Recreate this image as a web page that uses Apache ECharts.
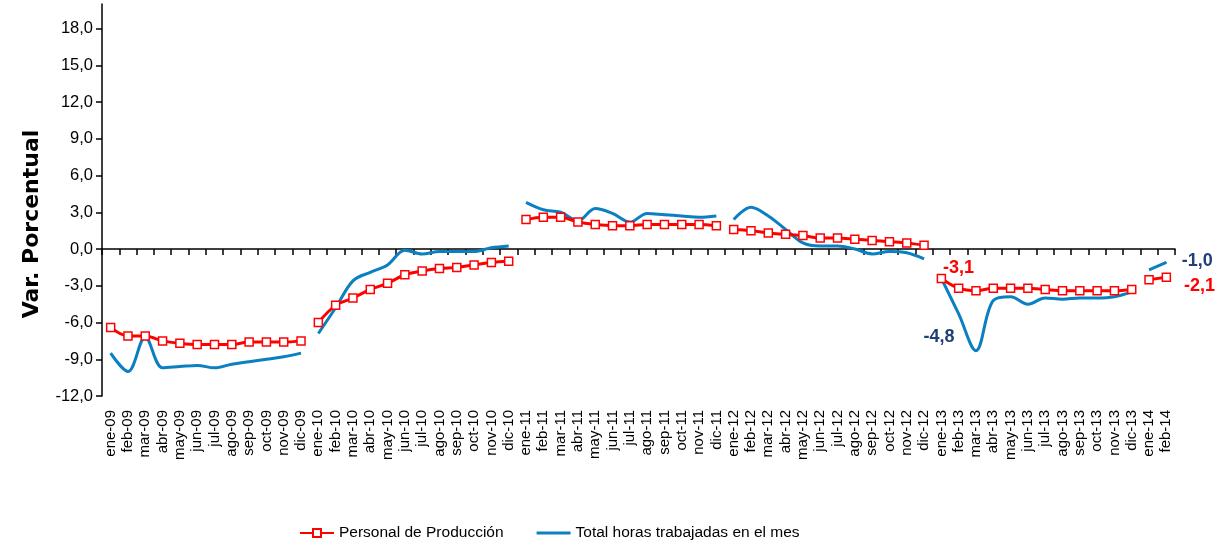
<!DOCTYPE html>
<html lang="es">
<head>
    <meta charset="UTF-8">
    <title>Personal de Producción y horas trabajadas</title>
    <script src="https://cdn.jsdelivr.net/npm/echarts@6/dist/echarts.min.js"></script>
    <style>
        html, body {
            margin: 0;
            padding: 0;
            background: #fff;
        }
        #chart {
            width: 1229px;
            height: 544px;
        }
    </style>
</head>
<body>
    <div id="chart"></div>

    <script>
        // meses ene-09 ... feb-14
        const categorias = [
            'ene-09','feb-09','mar-09','abr-09','may-09','jun-09','jul-09','ago-09','sep-09','oct-09','nov-09','dic-09',
            'ene-10','feb-10','mar-10','abr-10','may-10','jun-10','jul-10','ago-10','sep-10','oct-10','nov-10','dic-10',
            'ene-11','feb-11','mar-11','abr-11','may-11','jun-11','jul-11','ago-11','sep-11','oct-11','nov-11','dic-11',
            'ene-12','feb-12','mar-12','abr-12','may-12','jun-12','jul-12','ago-12','sep-12','oct-12','nov-12','dic-12',
            'ene-13','feb-13','mar-13','abr-13','may-13','jun-13','jul-13','ago-13','sep-13','oct-13','nov-13','dic-13',
            'ene-14','feb-14'
        ];

        // Personal de Producción (var. %)
        const personal = [
            -6.4, -7.1, -7.1, -7.5, -7.7, -7.8, -7.8, -7.8, -7.6, -7.6, -7.6, -7.5,
            -6.0, -4.6, -4.0, -3.3, -2.8, -2.1, -1.8, -1.6, -1.5, -1.3, -1.1, -1.0,
            2.4, 2.6, 2.6, 2.2, 2.0, 1.9, 1.9, 2.0, 2.0, 2.0, 2.0, 1.9,
            1.6, 1.5, 1.3, 1.2, 1.1, 0.9, 0.9, 0.8, 0.7, 0.6, 0.5, 0.3,
            -2.4, -3.2, -3.4, -3.2, -3.2, -3.2, -3.3, -3.4, -3.4, -3.4, -3.4, -3.3,
            -2.5, -2.3
        ];

        // Total horas trabajadas en el mes (var. %)
        const horas = [
            -8.5, -10.0, -7.2, -9.7, -9.6, -9.5, -9.7, -9.4, -9.2, -9.0, -8.8, -8.5,
            -6.9, -4.8, -2.6, -1.9, -1.3, -0.1, -0.4, -0.2, -0.2, -0.2, 0.1, 0.25,
            3.8, 3.2, 3.0, 2.3, 3.3, 2.9, 2.2, 2.9, 2.8, 2.7, 2.6, 2.7,
            2.4, 3.4, 2.7, 1.6, 0.5, 0.25, 0.25, 0.0, -0.4, -0.2, -0.3, -0.8,
            -2.4, -5.3, -8.3, -4.2, -3.9, -4.5, -4.0, -4.1, -4.0, -4.0, -3.9, -3.5,
            -1.7, -1.1
        ];

        // tramos anuales (los años no se unen entre sí)
        const tramos = [[0, 11], [12, 23], [24, 35], [36, 47], [48, 59], [60, 61]];

        const valoresEje = [-12, -9, -6, -3, 0, 3, 6, 9, 12, 15, 18];

        const ROJO = '#ff0000';
        const AZUL = '#0a7fc1';
        const AZUL_ETIQ = '#1f3f77';

        // etiquetas de texto sobre puntos concretos
        const etiquetasPersonal = {
            48: { formatter: '-3,1', position: 'right', offset: [-8, -10] },
            61: { formatter: '-2,1', position: 'right', offset: [8, 9] }
        };
        const etiquetasHoras = {
            50: { formatter: '-4,8', position: 'left', offset: [-16, -14] },
            61: { formatter: '-1,0', position: 'right', offset: [10, -1] }
        };

        function tramoDatos(valores, ini, fin, etiquetas, color, conSimbolo) {
            return valores.map((v, i) => {
                if (i < ini || i > fin) return null;
                if (etiquetas[i]) {
                    const item = {
                        value: v,
                        label: Object.assign({
                            show: true,
                            color: color,
                            fontFamily: 'Arial',
                            fontWeight: 'bold',
                            fontSize: 18
                        }, etiquetas[i])
                    };
                    if (conSimbolo) {
                        // símbolo mínimo para que la etiqueta se dibuje
                        item.symbol = 'circle';
                        item.symbolSize = 1;
                    }
                    return item;
                }
                return v;
            });
        }

        const series = [];
        tramos.forEach(([ini, fin]) => {
            series.push({
                name: 'Personal de Producción',
                type: 'line',
                smooth: 0.35,
                data: tramoDatos(personal, ini, fin, etiquetasPersonal, ROJO, false),
                symbol: 'rect',
                symbolSize: 8,
                showAllSymbol: true,
                lineStyle: { color: ROJO, width: 3 },
                itemStyle: { color: '#fff', borderColor: ROJO, borderWidth: 1.5 },
                z: 3
            });
            series.push({
                name: 'Total horas trabajadas en el mes',
                type: 'line',
                smooth: 0.35,
                data: tramoDatos(horas, ini, fin, etiquetasHoras, AZUL_ETIQ, true),
                symbol: 'none',
                lineStyle: { color: AZUL, width: 3 },
                itemStyle: { color: AZUL },
                z: 2
            });
        });

        const chart = echarts.init(document.getElementById('chart'));

        chart.setOption({
            animation: false,
            textStyle: { fontFamily: 'Arial' },
            grid: { left: 102, right: 54, top: 4, bottom: 148 },
            legend: {
                left: 294,
                top: 520,
                itemWidth: 34,
                itemHeight: 10,
                itemGap: 33,
                textStyle: { fontSize: 15.5, color: '#000', fontFamily: 'Arial' },
                data: [
                    { name: 'Personal de Producción' },
                    // solo la línea, sin símbolo
                    { name: 'Total horas trabajadas en el mes', icon: 'path://M0,0 L34,0 L34,3 L0,3 Z' }
                ]
            },
            xAxis: [{
                // línea del cero con marcas
                type: 'category',
                data: categorias,
                position: 'bottom',
                boundaryGap: true,
                axisLine: { onZero: true, lineStyle: { color: '#000', width: 1.5 } },
                axisTick: { show: true, interval: 0, length: 6, lineStyle: { color: '#000', width: 1.5 } },
                axisLabel: { show: false },
                splitLine: { show: false }
            }, {
                // etiquetas de meses abajo
                type: 'category',
                data: categorias,
                position: 'bottom',
                boundaryGap: true,
                axisLine: { show: false, onZero: false },
                axisTick: { show: false },
                axisLabel: {
                    interval: 0,
                    rotate: 90,
                    margin: 14,
                    fontSize: 15,
                    color: '#000',
                    fontFamily: 'Arial'
                },
                splitLine: { show: false }
            }],
            yAxis: {
                type: 'value',
                min: -12,
                max: 20,
                interval: 3,
                axisLine: { show: true, lineStyle: { color: '#000', width: 1.5 } },
                axisTick: { show: true, length: 6, customValues: valoresEje, lineStyle: { color: '#000', width: 1.5 } },
                axisLabel: {
                    customValues: valoresEje,
                    fontSize: 16.5,
                    color: '#000',
                    margin: 9,
                    fontFamily: 'Arial',
                    formatter: v => v.toFixed(1).replace('.', ',')
                },
                splitLine: { show: false }
            },
            graphic: [{
                type: 'text',
                x: 32,
                y: 224,
                rotation: Math.PI / 2,
                style: {
                    text: 'Var. Porcentual',
                    fontFamily: 'DejaVu Sans',
                    fontWeight: 'bold',
                    fontSize: 22,
                    fill: '#000',
                    align: 'center',
                    verticalAlign: 'middle'
                }
            }],
            series: series
        });
    </script>
</body>
</html>
